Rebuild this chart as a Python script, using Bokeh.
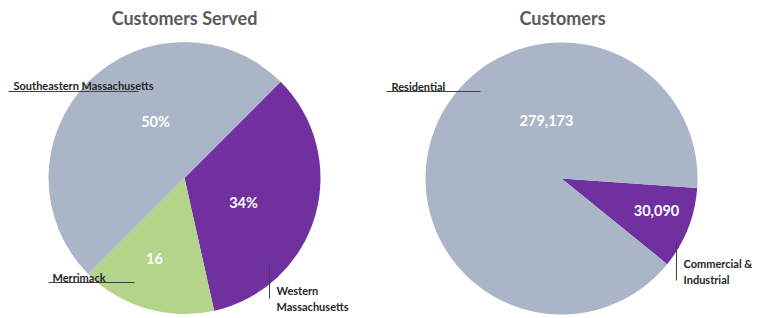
import math
from bokeh.plotting import figure
from bokeh.models import Range1d, ColumnDataSource
from bokeh.core.properties import value
from bokeh.embed import file_html
from bokeh.resources import INLINE

# ---------------- data ----------------
left_title = "Customers Served"
left_categories = ["Western Massachusetts", "Merrimack", "Southeastern Massachusetts"]
left_values = [34, 16, 50]
left_value_labels = ["34%", "16", "50%"]

right_title = "Customers"
right_categories = ["Commercial & Industrial", "Residential"]
right_values = [30090, 279173]
right_value_labels = ["30,090", "279,173"]

# ---------------- styles / layout ----------------
PURPLE = "#7030A0"
GREEN = "#B4D48C"
GRAY = "#AAB5C7"
TITLE_COLOR = "#595959"
LABEL_COLOR = "#262626"
FONT = "Lato"

left_colors = [PURPLE, GREEN, GRAY]
right_colors = [PURPLE, GRAY]

W, H = 765, 318


def Y(sy):
    # pixel y from top -> data y
    return H - sy


p = figure(width=W, height=H, x_range=Range1d(0, W), y_range=Range1d(0, H),
           output_backend="svg", toolbar_location=None, min_border=0)
p.axis.visible = False
p.grid.visible = False
p.outline_line_color = None
p.background_fill_color = "white"
p.border_fill_color = "white"


def draw_pie(cx, cy, R, start_cw, values, colors, labels, label_offsets):
    total = float(sum(values))
    acc = 0.0
    rows = dict(start=[], end=[], color=[])
    for v, c in zip(values, colors):
        t0 = start_cw + acc / total * 360.0
        t1 = start_cw + (acc + v) / total * 360.0
        acc += v
        rows["start"].append(math.radians(90.0 - t1))
        rows["end"].append(math.radians(90.0 - t0))
        rows["color"].append(c)
    src = ColumnDataSource(rows)
    p.wedge(x=cx, y=Y(cy), radius=R, start_angle="start", end_angle="end",
            direction="anticlock", fill_color="color", line_color=None, source=src)
    lsrc = ColumnDataSource(dict(
        x=[cx + dx for dx, dy in label_offsets],
        y=[Y(cy + dy) for dx, dy in label_offsets],
        t=labels))
    p.text(x="x", y="y", text="t", source=lsrc, text_color="white",
           text_font=value(FONT), text_font_style="bold", text_font_size="14.5px",
           text_align="center", text_baseline="middle")


# left pie
draw_pie(184, 177.5, 136, 45, left_values, left_colors, left_value_labels,
         [(59, 24), (-30, 80), (-29, -57)])
# right pie
draw_pie(561, 178, 136, 94, right_values, right_colors, right_value_labels,
         [(95, 32), (-15, -58)])

# titles
p.text(x=[184, 562], y=[Y(17), Y(17)], text=[left_title, right_title],
       text_color=TITLE_COLOR, text_font=value(FONT), text_font_style="bold",
       text_font_size="18px", text_align="center", text_baseline="middle")

# category labels with leader lines
cat_text = {
    "Southeastern Massachusetts": ("Southeastern Massachusetts", 13, 85),
    "Merrimack": ("Merrimack", 52, 277),
    "Western Massachusetts": ("Western\nMassachusetts", 276, 298),
    "Residential": ("Residential", 391, 86),
    "Commercial & Industrial": ("Commercial &\nIndustrial", 683, 271),
}
for name in left_categories + right_categories:
    t, x, y = cat_text[name]
    p.text(x=[x], y=[Y(y)], text=[t], text_color=LABEL_COLOR,
           text_font=value(FONT), text_font_style="bold", text_font_size="11px",
           text_align="left", text_baseline="middle", text_line_height=1.25)

lines_x0 = [8, 48, 269, 386, 676]
lines_y0 = [91, 282, 262, 91, 242]
lines_x1 = [138, 134, 269, 480, 676]
lines_y1 = [91, 282, 298, 91, 280]
p.segment(x0=lines_x0, y0=[Y(v) for v in lines_y0], x1=lines_x1,
          y1=[Y(v) for v in lines_y1], line_color="#404040", line_width=1)

open("out.html", "w").write(file_html(p, INLINE))
